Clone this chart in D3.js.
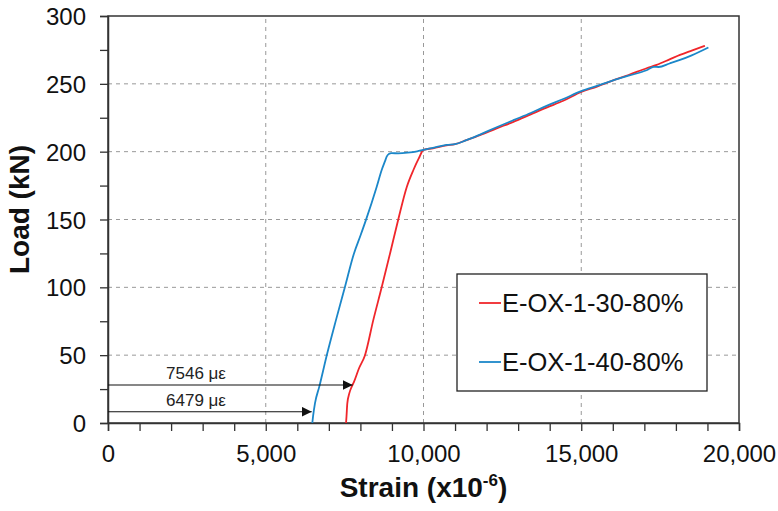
<!DOCTYPE html>
<html>
<head>
<meta charset="utf-8">
<script src="https://d3js.org/d3.v7.min.js"></script>
<style>
  body { margin: 0; background: #fff; }
  svg { font-family: "Liberation Sans", Arial, sans-serif; }
</style>
</head>
<body>
<svg id="chart" width="778" height="511"></svg>
<script>
// E-OX-1-30-80% (red)
const redStrain = [7545, 7560, 7585, 7650, 7725, 7790, 7950, 8146, 8410, 8675, 8940, 9200, 9470, 9680, 9850, 10000,
  10300, 10730, 11000, 11360, 11790, 12300, 12850, 13400, 13900, 14430, 15000, 15500, 16010, 16500, 17070, 17390,
  17800, 18130, 18500, 18920];
const redLoad = [0, 5, 14.5, 22, 26.8, 30, 40, 50, 76, 100, 125, 150, 174, 186.5, 195, 201.4,
  202.5, 204.6, 205.5, 208.5, 212.2, 217, 222, 227.5, 232.5, 237.5, 244, 248, 252.5, 256.5, 261.5, 264,
  268, 271.3, 274.5, 278];

// E-OX-1-40-80% (blue)
const blueStrain = [6476, 6500, 6560, 6697, 6950, 7227, 7512, 7797, 8000, 8177, 8515, 8675, 8780, 8833, 8900, 8990,
  9200, 9500, 9800, 10000, 10300, 10730, 11000, 11360, 11790, 12300, 12850, 13400, 13900, 14430, 15000,
  15500, 16010, 16500, 17070, 17300, 17450, 17800, 18130, 18500, 19030];
const blueLoad = [0, 5, 14.5, 26.8, 51.4, 76, 100.5, 125, 138, 149.7, 174, 186.5, 193, 196.3, 198.3, 198.9,
  198.8, 199.3, 200.3, 201.4, 202.8, 205, 205.5, 208.5, 212.6, 217.8, 223.2, 228.5, 233.8, 238.8, 244.6,
  248.5, 252.5, 256, 260, 262.5, 262.4, 265, 267.6, 271, 276.8];

const seriesNames = ["E-OX-1-30-80%", "E-OX-1-40-80%"];
const seriesColors = ["#f0262b", "#1b87c9"];

const xTicks = [0, 5000, 10000, 15000, 20000];
const yTicks = [0, 50, 100, 150, 200, 250, 300];

// annotation arrows: label, load level, strain at the arrow tip
const noteLabels = ["7546 με", "6479 με"];
const noteLoads = [28, 8.3];
const noteTips = [7756, 6456];

const svg = d3.select("#chart");
const margin = { top: 16, right: 39, bottom: 88, left: 108 };
const W = 778, H = 511;
const x = d3.scaleLinear().domain([0, 20000]).range([margin.left, W - margin.right]);
const y = d3.scaleLinear().domain([0, 300]).range([H - margin.bottom, margin.top]);
const axisColor = "#333";

// grid
svg.append("g").selectAll("line").data(xTicks.slice(1, -1)).join("line")
  .attr("x1", d => x(d)).attr("x2", d => x(d))
  .attr("y1", y(0)).attr("y2", y(300))
  .attr("stroke", "#999").attr("stroke-dasharray", "4,4");
svg.append("g").selectAll("line").data(yTicks.slice(1, -1)).join("line")
  .attr("y1", d => y(d)).attr("y2", d => y(d))
  .attr("x1", x(0)).attr("x2", x(20000))
  .attr("stroke", "#999").attr("stroke-dasharray", "4,4");

// frame (top / right)
svg.append("rect")
  .attr("x", x(0)).attr("y", y(300))
  .attr("width", x(20000) - x(0)).attr("height", y(0) - y(300))
  .attr("fill", "none").attr("stroke", axisColor).attr("stroke-width", 1.5);

// axes with minor ticks
const xAxis = svg.append("g").attr("transform", `translate(0,${y(0)})`)
  .call(d3.axisBottom(x).tickValues(d3.range(0, 20001, 1000)).tickSize(8)
    .tickFormat(d => xTicks.includes(d) ? d3.format(",")(d) : ""));
const yAxis = svg.append("g").attr("transform", `translate(${x(0)},0)`)
  .call(d3.axisLeft(y).tickValues(d3.range(0, 301, 25)).tickSize(8)
    .tickFormat(d => yTicks.includes(d) ? d : ""));
[xAxis, yAxis].forEach(g => {
  g.select(".domain").attr("stroke", axisColor).attr("stroke-width", 1.5);
  g.selectAll(".tick line").attr("stroke", axisColor).attr("stroke-width", 1.3);
  g.selectAll("text").attr("font-family", "Liberation Sans, Arial, sans-serif")
    .attr("font-size", 24).attr("fill", "#111");
});
xAxis.selectAll("text").attr("dy", "1.15em");
yAxis.selectAll("text").attr("x", -22).attr("dy", "0.36em");

// curves
const line = d3.line().x(d => x(d[0])).y(d => y(d[1])).curve(d3.curveMonotoneX);
const redData = redStrain.map((s, i) => [s, redLoad[i]]);
const blueData = blueStrain.map((s, i) => [s, blueLoad[i]]);
[redData, blueData].forEach((data, i) => {
  svg.append("path").datum(data)
    .attr("d", line)
    .attr("fill", "none")
    .attr("stroke", seriesColors[i])
    .attr("stroke-width", 1.8)
    .attr("stroke-linejoin", "round");
});

// arrows
svg.append("defs").append("marker")
  .attr("id", "arrow").attr("viewBox", "0 0 10 10")
  .attr("refX", 10).attr("refY", 5)
  .attr("markerWidth", 10).attr("markerHeight", 10)
  .attr("markerUnits", "userSpaceOnUse")
  .attr("orient", "auto")
  .append("path").attr("d", "M0,0 L10,5 L0,10 Z").attr("fill", "#111");

noteLabels.forEach((lab, i) => {
  svg.append("line")
    .attr("x1", x(0)).attr("x2", x(noteTips[i]))
    .attr("y1", y(noteLoads[i])).attr("y2", y(noteLoads[i]))
    .attr("stroke", "#111").attr("stroke-width", 1.2)
    .attr("marker-end", "url(#arrow)");
  svg.append("text")
    .attr("x", 196).attr("y", y(noteLoads[i]) - 6)
    .attr("text-anchor", "middle")
    .attr("font-size", 17).attr("fill", "#222")
    .text(lab);
});

// legend
const legend = svg.append("g");
legend.append("rect")
  .attr("x", 457).attr("y", 274).attr("width", 250).attr("height", 117)
  .attr("fill", "#fff").attr("stroke", "#222").attr("stroke-width", 1.3);
seriesNames.forEach((name, i) => {
  const ly = 303 + i * 59;
  legend.append("line")
    .attr("x1", 479).attr("x2", 501).attr("y1", ly).attr("y2", ly)
    .attr("stroke", seriesColors[i]).attr("stroke-width", 1.8);
  legend.append("text")
    .attr("x", 502).attr("y", ly + 9)
    .attr("font-size", 25.5).attr("fill", "#111")
    .text(name);
});

// axis titles
const xt = svg.append("text")
  .attr("x", (x(0) + x(20000)) / 2).attr("y", 497)
  .attr("text-anchor", "middle")
  .attr("font-size", 28).attr("font-weight", "bold").attr("fill", "#111");
xt.append("tspan").text("Strain (x10");
xt.append("tspan").attr("font-size", 17).attr("dy", -11).text("-6");
xt.append("tspan").attr("dy", 11).text(")");

svg.append("text")
  .attr("transform", `translate(29,${(y(0) + y(300)) / 2 - 10}) rotate(-90)`)
  .attr("text-anchor", "middle")
  .attr("font-size", 28).attr("font-weight", "bold").attr("fill", "#111")
  .text("Load (kN)");
</script>
</body>
</html>
